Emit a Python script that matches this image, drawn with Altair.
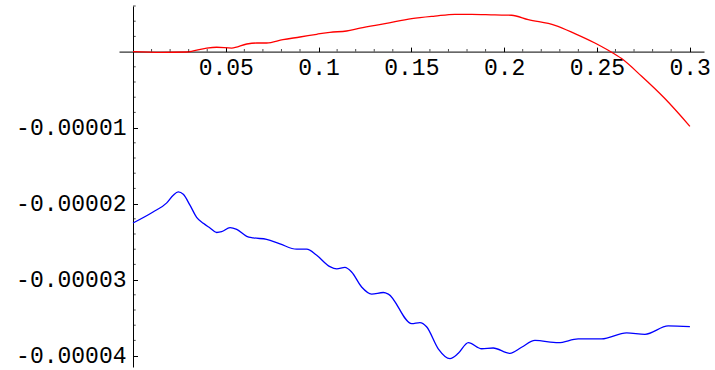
import altair as alt
import pandas as pd

# Red series
red_x = [0.0, 0.015, 0.029, 0.0397, 0.0451, 0.0532, 0.0613, 0.0667, 0.072, 0.0808,
         0.09, 0.099, 0.1061, 0.1151, 0.1223, 0.1358, 0.1502, 0.1627, 0.1735, 0.1825,
         0.195, 0.204, 0.213, 0.2274, 0.2381, 0.2489, 0.2561, 0.2633, 0.2741, 0.2866, 0.3001]
red_y = [0.0, -0.01e-5, -0.005e-5, 0.047e-5, 0.057e-5, 0.047e-5, 0.10e-5, 0.113e-5, 0.113e-5, 0.158e-5,
         0.192e-5, 0.228e-5, 0.254e-5, 0.271e-5, 0.31e-5, 0.368e-5, 0.434e-5, 0.468e-5, 0.491e-5, 0.491e-5,
         0.482e-5, 0.478e-5, 0.421e-5, 0.346e-5, 0.237e-5, 0.113e-5, 0.017e-5, -0.092e-5, -0.325e-5, -0.618e-5, -0.983e-5]

# Blue series
blue_x = [0.0, 0.0108, 0.0182, 0.0217, 0.0244, 0.0271, 0.0307, 0.0343, 0.0379, 0.0415,
          0.0451, 0.0478, 0.0523, 0.0559, 0.0613, 0.0648, 0.072, 0.0792, 0.0882, 0.0936,
          0.099, 0.1061, 0.1098, 0.1142, 0.1178, 0.1232, 0.1286, 0.1349, 0.1376, 0.1502,
          0.1546, 0.1582, 0.1645, 0.1708, 0.1753, 0.1807, 0.1879, 0.1941, 0.2031, 0.2094,
          0.2166, 0.2292, 0.2399, 0.2525, 0.266, 0.2759, 0.2884, 0.3001]
blue_y = [-2.255e-5, -2.11e-5, -1.99e-5, -1.89e-5, -1.847e-5, -1.878e-5, -2.02e-5, -2.18e-5, -2.26e-5, -2.32e-5,
          -2.38e-5, -2.37e-5, -2.316e-5, -2.34e-5, -2.43e-5, -2.45e-5, -2.47e-5, -2.53e-5, -2.60e-5, -2.60e-5,
          -2.68e-5, -2.83e-5, -2.86e-5, -2.84e-5, -2.90e-5, -3.097e-5, -3.19e-5, -3.17e-5, -3.19e-5, -3.58e-5,
          -3.566e-5, -3.62e-5, -3.91e-5, -4.04e-5, -3.97e-5, -3.83e-5, -3.91e-5, -3.90e-5, -3.97e-5, -3.89e-5,
          -3.80e-5, -3.83e-5, -3.78e-5, -3.78e-5, -3.70e-5, -3.72e-5, -3.61e-5, -3.62e-5]

# Tick positions
x_major = [0.05, 0.1, 0.15, 0.2, 0.25, 0.3]
x_minor = [0.01, 0.02, 0.03, 0.04, 0.06, 0.07, 0.08, 0.09, 0.11, 0.12, 0.13, 0.14,
           0.16, 0.17, 0.18, 0.19, 0.21, 0.22, 0.23, 0.24, 0.26, 0.27, 0.28, 0.29]
y_major = [-0.00001, -0.00002, -0.00003, -0.00004]
y_minor = [0.000006, 0.000004, 0.000002, -0.000002, -0.000004, -0.000006, -0.000008,
           -0.000012, -0.000014, -0.000016, -0.000018, -0.000022, -0.000024, -0.000026,
           -0.000028, -0.000032, -0.000034, -0.000036, -0.000038]

X_DOMAIN = [-0.00754, 0.3077]
Y_DOMAIN = [-4.15e-5, 0.6e-5]
W, H = 585, 361
FONT = "Liberation Mono"
FS = 23

red = pd.DataFrame({"x": red_x, "y": red_y})
blue = pd.DataFrame({"x": blue_x, "y": blue_y})
xmin_df = pd.DataFrame({"x": x_minor, "y": [0.0] * len(x_minor)})
ymin_df = pd.DataFrame({"x": [0.0] * len(y_minor), "y": y_minor})

xs = alt.Scale(domain=X_DOMAIN, nice=False, zero=False)
ys = alt.Scale(domain=Y_DOMAIN, nice=False, zero=False)

# Red curve carries the tick labels (bottom/left axes moved onto the origin)
red_line = alt.Chart(red).mark_line(color="#ff0000", strokeWidth=1.3, interpolate="monotone").encode(
    x=alt.X("x:Q", scale=xs, axis=alt.Axis(
        orient="bottom", offset=-(H - 45.6), values=x_major, domain=False, ticks=False, grid=False,
        labelFont=FONT, labelFontSize=FS, labelColor="black", labelPadding=5,
        labelExpr="format(datum.value, '~g')", title=None)),
    y=alt.Y("y:Q", scale=ys, axis=alt.Axis(
        orient="left", offset=-14, values=y_major, domain=False, ticks=False, grid=False,
        labelFont=FONT, labelFontSize=FS, labelColor="black", labelPadding=7,
        labelExpr="'-' + format(abs(datum.value), '.5f')", title=None)),
)

# Blue curve carries the axis lines and major ticks (top/right axes moved onto the origin)
blue_line = alt.Chart(blue).mark_line(color="#0000ff", strokeWidth=1.3, interpolate="monotone").encode(
    x=alt.X("x:Q", scale=xs, axis=alt.Axis(
        orient="top", offset=-45.6, values=x_major, labels=False, grid=False,
        domainColor="black", domainWidth=1, tickColor="black", tickSize=4.5, tickWidth=1, title=None)),
    y=alt.Y("y:Q", scale=ys, axis=alt.Axis(
        orient="right", offset=-(W - 14), values=y_major, labels=False, grid=False,
        domainColor="black", domainWidth=1, tickColor="black", tickSize=4.5, tickWidth=1, title=None)),
)

# Minor ticks
x_minor_ticks = alt.Chart(xmin_df).mark_tick(color="black", thickness=1, size=2.7, orient="vertical", yOffset=-1.35).encode(
    x=alt.X("x:Q", scale=xs, axis=None),
    y=alt.Y("y:Q", scale=ys, axis=None),
)
y_minor_ticks = alt.Chart(ymin_df).mark_tick(color="black", thickness=1, size=2.7, orient="horizontal", xOffset=1.35).encode(
    x=alt.X("x:Q", scale=xs, axis=None),
    y=alt.Y("y:Q", scale=ys, axis=None),
)

chart = alt.layer(red_line, blue_line, x_minor_ticks, y_minor_ticks).resolve_scale(
    x="independent", y="independent"
).properties(
    width=W, height=H,
    background="white",
    autosize=alt.AutoSizeParams(type="none"),
    padding={"left": 119, "top": 6, "right": 11, "bottom": 3},
).configure_view(stroke=None)

chart.save("out.html", embed_options={"renderer": "svg", "actions": False})
